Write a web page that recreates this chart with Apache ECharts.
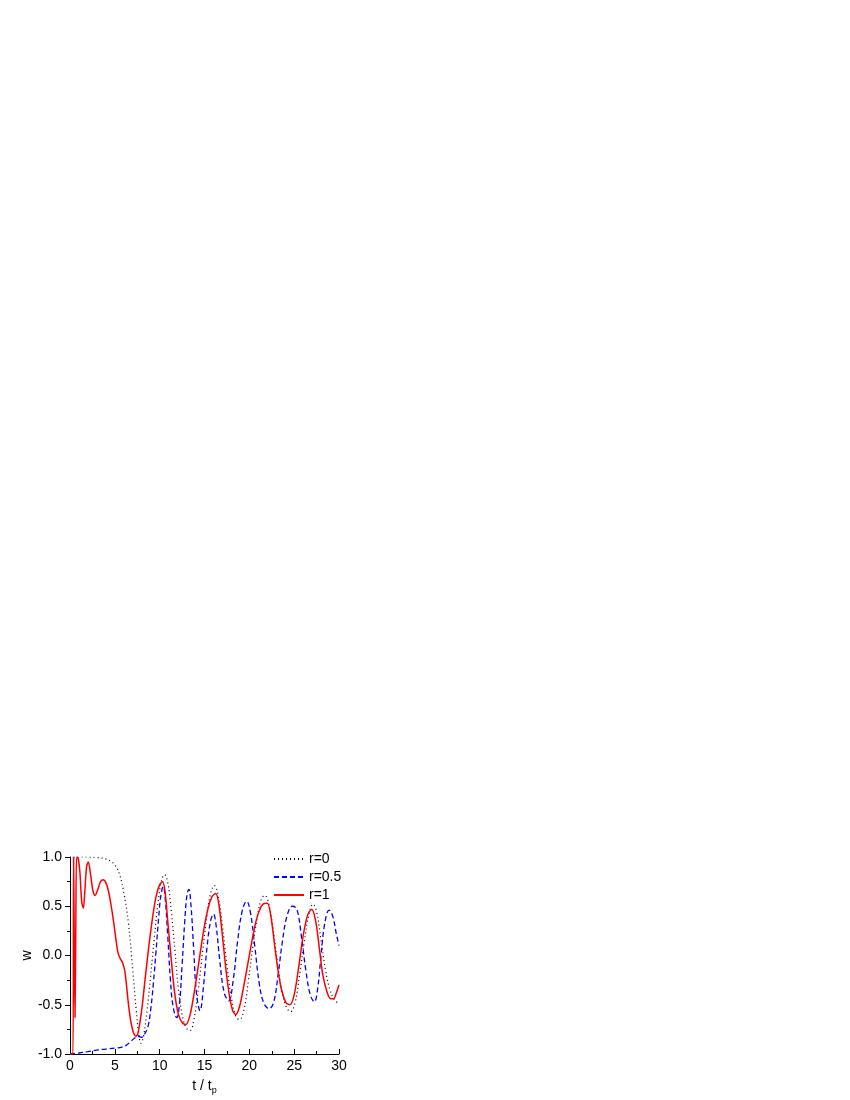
<!DOCTYPE html>
<html>
<head>
<meta charset="utf-8">
<script src="https://cdn.jsdelivr.net/npm/echarts@6/dist/echarts.min.js"></script>
<style>
  html, body { margin: 0; padding: 0; background: #fff; }
  #chart { width: 850px; height: 1100px; }
</style>
</head>
<body>
<div id="chart"></div>
<script>
// series names
var seriesNames = ['r=0', 'r=0.5', 'r=1'];

// r=0, black dotted  [t/tp, w]
var dataR0 = [
  [0.4,1],[1,1],[2,1],[3,0.995],[3.5,0.99],[4,0.98],[4.5,0.96],[5,0.92],[5.5,0.83],[6,0.64],
  [6.5,0.34],[7,-0.15],[7.4,-0.57],[7.7,-0.82],[7.9,-0.89],[8.2,-0.82],[8.6,-0.55],[9,-0.2],
  [9.4,0.18],[9.8,0.52],[10.2,0.76],[10.55,0.82],[10.9,0.74],[11.3,0.45],[11.7,0.05],[12.1,-0.35],
  [12.6,-0.64],[13.0,-0.74],[13.4,-0.76],[13.8,-0.66],[14.3,-0.35],[14.8,0.05],[15.3,0.42],
  [15.7,0.64],[16.1,0.71],[16.5,0.62],[17.0,0.3],[17.5,-0.1],[18.0,-0.43],[18.5,-0.62],[18.9,-0.65],
  [19.4,-0.55],[19.9,-0.25],[20.4,0.1],[20.9,0.4],[21.3,0.56],[21.7,0.61],[22.1,0.55],[22.6,0.3],
  [23.1,-0.05],[23.6,-0.35],[24.1,-0.52],[24.6,-0.57],[25.1,-0.48],[25.6,-0.2],[26.1,0.12],
  [26.6,0.4],[27.1,0.52],[27.5,0.45],[28.0,0.15],[28.5,-0.15],[29.0,-0.35],[29.5,-0.45],[30,-0.49]
];

// r=0.5, blue dashed
var dataR05 = [
  [0,-1],[1,-0.99],[2,-0.975],[3,-0.96],[4,-0.95],[5,-0.94],[5.8,-0.93],[6.3,-0.91],[6.8,-0.87],
  [7.2,-0.84],[7.6,-0.82],[8.0,-0.83],[8.3,-0.8],[8.7,-0.72],[9.0,-0.55],[9.3,-0.28],[9.6,0.05],
  [9.9,0.4],[10.15,0.62],[10.4,0.7],[10.6,0.6],[10.9,0.2],[11.2,-0.25],[11.5,-0.52],[11.9,-0.63],
  [12.2,-0.5],[12.5,-0.1],[12.8,0.35],[13.05,0.62],[13.25,0.67],[13.5,0.5],[13.8,0.05],[14.1,-0.38],
  [14.5,-0.56],[14.9,-0.3],[15.3,0.1],[15.7,0.36],[16.0,0.42],[16.3,0.3],[16.7,-0.05],[17.2,-0.38],
  [17.7,-0.46],[18.2,-0.25],[18.7,0.15],[19.2,0.45],[19.7,0.55],[20.1,0.45],[20.6,0.1],[21.1,-0.28],
  [21.6,-0.48],[22.2,-0.54],[22.7,-0.48],[23.2,-0.2],[23.7,0.15],[24.2,0.4],[24.8,0.5],[25.3,0.47],
  [25.8,0.2],[26.3,-0.15],[26.8,-0.4],[27.25,-0.47],[27.6,-0.35],[28.0,0.0],[28.4,0.32],[28.9,0.46],
  [29.3,0.4],[29.7,0.22],[30,0.1]
];

// r=1, red solid
var dataR1 = [
  [0,-1],[0.33,-1],[0.4,1],[0.47,0.2],[0.56,-0.63],[0.64,0.2],[0.74,1],[0.9,0.99],[1.1,0.85],
  [1.3,0.55],[1.49,0.48],[1.65,0.65],[1.85,0.9],[2.04,0.95],[2.3,0.82],[2.55,0.66],[2.8,0.61],
  [3.1,0.67],[3.4,0.75],[3.72,0.77],[4.0,0.74],[4.3,0.65],[4.6,0.5],[4.85,0.35],[5.1,0.18],
  [5.35,0.03],[5.6,-0.03],[5.85,-0.07],[6.1,-0.15],[6.3,-0.3],[6.5,-0.48],[6.8,-0.68],[7.1,-0.79],
  [7.36,-0.82],[7.6,-0.78],[8.0,-0.55],[8.4,-0.22],[8.8,0.1],[9.2,0.38],[9.6,0.6],[10.0,0.72],
  [10.33,0.75],[10.6,0.65],[10.9,0.35],[11.3,-0.05],[11.7,-0.4],[12.1,-0.6],[12.5,-0.68],[12.93,-0.7],
  [13.4,-0.6],[13.9,-0.35],[14.4,-0.05],[14.9,0.25],[15.4,0.48],[15.85,0.6],[16.25,0.63],[16.6,0.52],
  [17.0,0.2],[17.4,-0.15],[17.8,-0.42],[18.15,-0.56],[18.47,-0.6],[18.9,-0.52],[19.4,-0.3],
  [19.9,-0.05],[20.4,0.2],[20.9,0.4],[21.5,0.52],[22.0,0.53],[22.4,0.4],[22.8,0.12],[23.2,-0.15],
  [23.6,-0.35],[24.1,-0.48],[24.53,-0.5],[25.0,-0.4],[25.5,-0.12],[26.0,0.2],[26.5,0.41],[26.95,0.47],
  [27.4,0.35],[27.8,0.08],[28.2,-0.2],[28.7,-0.38],[29.1,-0.44],[29.4,-0.44],[29.7,-0.38],[30,-0.3]
];

var chart = echarts.init(document.getElementById('chart'), null, { renderer: 'canvas' });
var font = 'Liberation Sans';

var option = {
  animation: false,
  backgroundColor: '#fff',
  textStyle: { fontFamily: font },
  grid: { left: 70, right: 511, top: 857, bottom: 46 },
  legend: {
    orient: 'vertical',
    left: 268,
    top: 847,
    itemWidth: 30,
    itemHeight: 12,
    itemGap: 4,
    itemStyle: { opacity: 0 },
    textStyle: { fontFamily: font, fontSize: 14, color: '#000' },
    data: seriesNames
  },
  xAxis: {
    type: 'value',
    min: 0, max: 30, interval: 5,
    name: 't / t{sub|p}',
    nameLocation: 'middle',
    nameGap: 24,
    nameTextStyle: {
      fontFamily: font, fontSize: 14, color: '#000',
      rich: { sub: { fontFamily: font, fontSize: 9, color: '#000', verticalAlign: 'bottom', padding: [8, 0, 0, 0] } }
    },
    axisLine: { show: true, onZero: false, lineStyle: { color: '#000', width: 1 } },
    axisTick: { show: true, inside: true, length: 5, lineStyle: { color: '#000' } },
    minorTick: { show: true, splitNumber: 2, length: 3, lineStyle: { color: '#000' } },
    axisLabel: { color: '#000', fontSize: 14, fontFamily: font, margin: 5 },
    splitLine: { show: false }
  },
  yAxis: {
    type: 'value',
    min: -1, max: 1, interval: 0.5,
    name: 'w',
    nameLocation: 'middle',
    nameGap: 36,
    nameRotate: 90,
    nameTextStyle: { fontFamily: font, fontSize: 14, color: '#000' },
    axisLine: { show: true, onZero: false, lineStyle: { color: '#000', width: 1 } },
    axisTick: { show: true, inside: false, length: 5, lineStyle: { color: '#000' } },
    minorTick: { show: true, splitNumber: 2, length: 3, lineStyle: { color: '#000' } },
    axisLabel: {
      color: '#000', fontSize: 14, fontFamily: font, margin: 8,
      formatter: function (v) { return v.toFixed(1); }
    },
    splitLine: { show: false }
  },
  series: [
    {
      name: seriesNames[0], type: 'line', data: dataR0, smooth: 0.4, symbol: 'none',
      lineStyle: { color: '#000', width: 1.2, type: [1, 3] },
      itemStyle: { color: '#000' }, z: 2
    },
    {
      name: seriesNames[1], type: 'line', data: dataR05, smooth: 0.4, symbol: 'none',
      lineStyle: { color: '#0000ff', width: 1.3, type: [5, 3] },
      itemStyle: { color: '#0000ff' }, z: 3
    },
    {
      name: seriesNames[2], type: 'line', data: dataR1, smooth: 0.3, symbol: 'none',
      lineStyle: { color: '#ff0000', width: 1.5 },
      itemStyle: { color: '#ff0000' }, z: 4
    }
  ]
};
chart.setOption(option);
</script>
</body>
</html>
